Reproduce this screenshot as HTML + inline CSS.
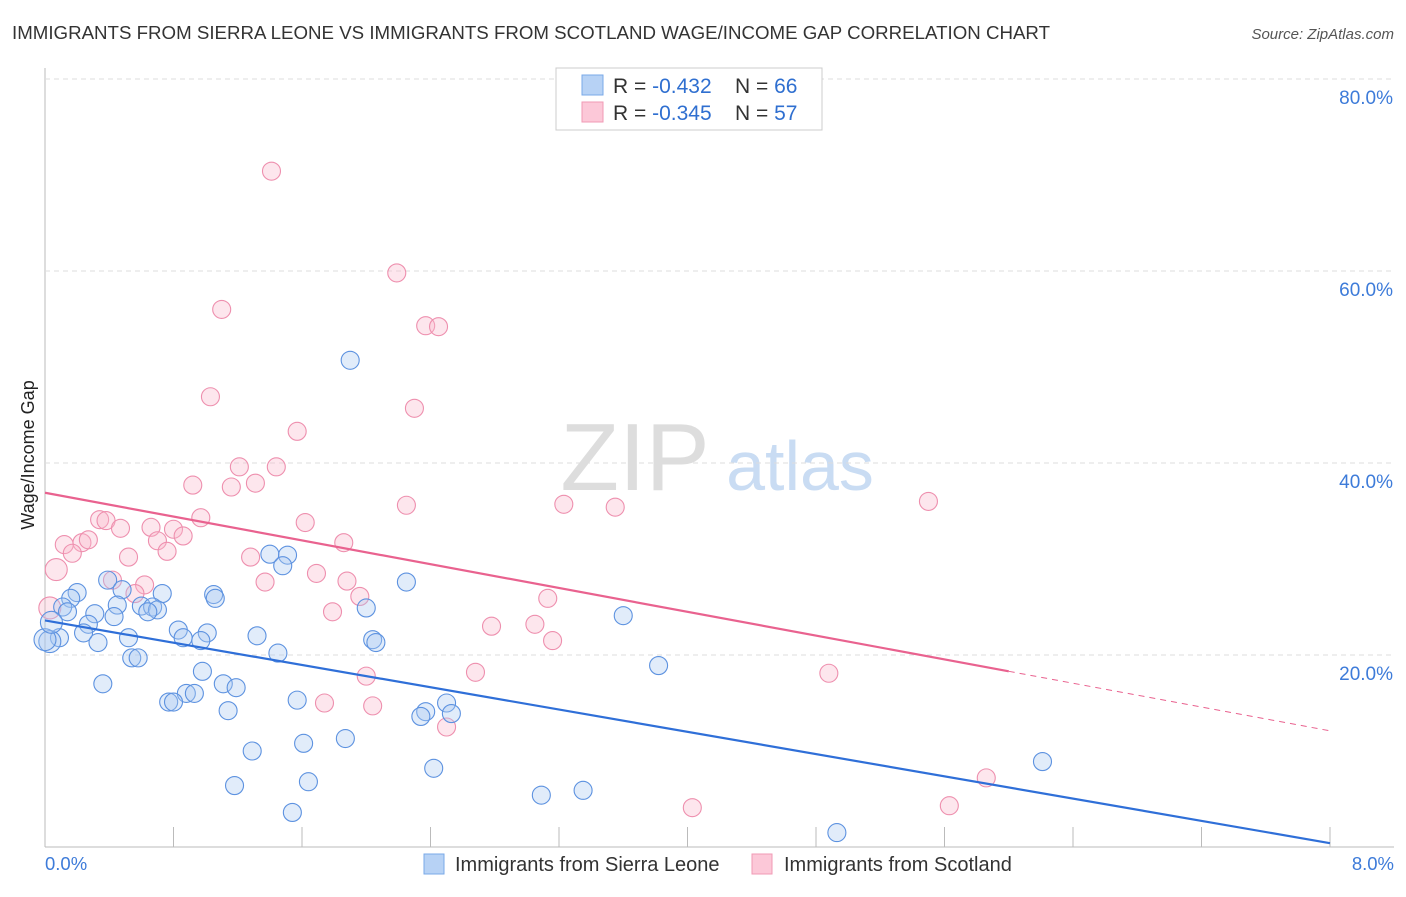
<!DOCTYPE html>
<html><head><meta charset="utf-8"><style>
body{margin:0;background:#fff;font-family:"Liberation Sans",sans-serif}
svg text{font-family:"Liberation Sans",sans-serif}
</style></head><body>
<svg id="c" width="1406" height="892" xmlns="http://www.w3.org/2000/svg">
<text x="12" y="39" font-size="18.6" fill="#333" textLength="1038" lengthAdjust="spacingAndGlyphs">IMMIGRANTS FROM SIERRA LEONE VS IMMIGRANTS FROM SCOTLAND WAGE/INCOME GAP CORRELATION CHART</text>
<text x="1394" y="39" font-size="15" fill="#555" font-style="italic" text-anchor="end">Source: ZipAtlas.com</text>
<text x="635" y="490" font-size="96" fill="#ddd" font-family="Liberation Serif" text-anchor="middle">ZIP</text>
<text x="800" y="490" font-size="70" fill="#c9dcf3" text-anchor="middle">atlas</text>
<text transform="translate(34,455) rotate(-90)" font-size="18" fill="#222" text-anchor="middle">Wage/Income Gap</text>
<g id="grid"></g><g id="pts"></g><g id="lines"></g>
<g>
<rect x="556" y="68" width="266" height="62" fill="#fff" stroke="#ccc"/>
<rect x="582" y="75" width="21" height="20" fill="#b7d2f5" stroke="#7aa9e8"/>
<rect x="582" y="102" width="21" height="20" fill="#fcc8d8" stroke="#f09ab5"/>
<text x="613" y="93" font-size="21" fill="#333">R = <tspan fill="#2f6fd0">-0.432</tspan><tspan x="735">N = </tspan><tspan fill="#2f6fd0">66</tspan></text>
<text x="613" y="120" font-size="21" fill="#333">R = <tspan fill="#2f6fd0">-0.345</tspan><tspan x="735">N = </tspan><tspan fill="#2f6fd0">57</tspan></text>
</g>
<g>
<rect x="424" y="854" width="20" height="20" fill="#b7d2f5" stroke="#7aa9e8"/>
<text x="455" y="871" font-size="20" fill="#333">Immigrants from Sierra Leone</text>
<rect x="752" y="854" width="20" height="20" fill="#fcc8d8" stroke="#f09ab5"/>
<text x="784" y="871" font-size="20" fill="#333">Immigrants from Scotland</text>
</g>
<text x="45" y="870" font-size="18.5" fill="#3d7bd9">0.0%</text>
<text x="1394" y="870" font-size="18.5" fill="#3d7bd9" text-anchor="end">8.0%</text>
</svg>
<script>
const yTicks=[20,40,60,80];
const yTickLabels=["20.0%","40.0%","60.0%","80.0%"];
const xTicks=[0,0.8,1.6,2.4,3.2,4,4.8,5.6,6.4,7.2,8];
const blueX=[1.90,1.40,1.51,1.48,2.25,0.39,0.48,0.73,0.20,0.16,1.05,1.06,0.60,0.45,0.67,0.70,0.64,0.11,0.14,0.31,0.43,2.00,3.60,0.27,0.24,0.09,0.03,0.83,1.01,0.86,0.97,0.52,1.32,2.04,2.06,0.33,1.45,0.54,0.58,3.82,0.98,0.36,1.11,1.19,0.88,0.93,0.77,0.80,1.57,2.50,1.14,2.37,2.53,2.34,1.29,1.61,1.87,2.42,6.21,1.18,1.64,3.35,3.09,1.54,4.93,0.0,0.04];
const blueY=[50.7,30.5,30.4,29.3,27.6,27.8,26.8,26.4,26.5,25.9,26.3,25.9,25.1,25.2,25.0,24.7,24.5,25.0,24.5,24.3,24.0,24.9,24.1,23.2,22.3,21.8,21.4,22.6,22.3,21.8,21.5,21.8,22.0,21.6,21.3,21.3,20.2,19.7,19.7,18.9,18.3,17.0,17.0,16.6,16.0,16.0,15.1,15.1,15.3,15.0,14.2,14.1,13.9,13.6,10.0,10.8,11.3,8.2,8.9,6.4,6.8,5.9,5.4,3.6,1.5,21.6,23.4];
const pinkX=[1.41,2.19,1.10,2.37,2.45,1.03,2.30,1.57,1.21,1.44,0.92,1.16,1.31,5.50,3.23,3.55,2.25,0.34,0.38,0.97,0.47,0.66,0.80,1.62,0.12,0.23,0.27,0.17,0.52,0.70,0.86,0.76,1.28,1.86,0.07,0.42,0.62,1.37,0.56,1.69,1.88,1.96,3.13,1.79,2.78,3.05,3.16,2.68,2.00,4.88,1.74,2.04,2.50,5.86,4.03,5.63,0.03];
const pinkY=[70.4,59.8,56.0,54.3,54.2,46.9,45.7,43.3,39.6,39.6,37.7,37.5,37.9,36.0,35.7,35.4,35.6,34.1,34.0,34.3,33.2,33.3,33.1,33.8,31.5,31.7,32.0,30.6,30.2,31.9,32.4,30.8,30.2,31.7,28.9,27.8,27.3,27.6,26.4,28.5,27.7,26.1,25.9,24.5,23.0,23.2,21.5,18.2,17.8,18.1,15.0,14.7,12.5,7.2,4.1,4.3,24.9];
const blueTrend=[23.6,0.4];
const pinkTrend=[36.9,12.1];
const pinkSolidEnd=6.0;
const NS="http://www.w3.org/2000/svg";
const sx=v=>45+v/8*1285, sy=v=>847-v*9.6;
function mk(t,a,p){const e=document.createElementNS(NS,t);for(const k in a)e.setAttribute(k,a[k]);p.appendChild(e);return e;}
const grid=document.getElementById('grid');
const ax=mk('line',{x1:45,y1:68,x2:45,y2:847,stroke:'#bbb'},grid);


const bx=mk('line',{x1:45,y1:847,x2:1394,y2:847,stroke:'#bbb'},grid);


yTicks.forEach((v,i)=>{
 const g=mk('line',{x1:45,y1:sy(v),x2:1394,y2:sy(v),stroke:'#ddd','stroke-dasharray':'5,4'},grid);
 
 
 const t=mk('text',{x:1393,y:sy(v)+25,'font-size':19,fill:'#3d7bd9','text-anchor':'end'},grid);
 t.textContent=yTickLabels[i];
 
 
});
xTicks.forEach(v=>{
 const l=mk('line',{x1:sx(v),y1:827,x2:sx(v),y2:847,stroke:'#bbb'},grid);
 
 
});
const pts=document.getElementById('pts');
function dots(X,Y,f,s,name){X.forEach((x,i)=>{
 const big=x<0.08;
 const c=mk('circle',{cx:sx(x),cy:sy(Y[i]),r:big?11:9,fill:f,'fill-opacity':0.35,stroke:s,'stroke-width':1.1},pts);
 
 
});}
dots(pinkX,pinkY,'#f9b8cc','#ee8fae','point-scotland');
dots(blueX,blueY,'#a9c8f2','#5d92e0','point-sierra-leone');
const lines=document.getElementById('lines');
const bl=mk('line',{x1:sx(0),y1:sy(blueTrend[0]),x2:sx(8),y2:sy(blueTrend[1]),stroke:'#2f6fd8','stroke-width':2.2},lines);


const py=x=>pinkTrend[0]+(pinkTrend[1]-pinkTrend[0])*x/8;
const pl=mk('line',{x1:sx(0),y1:sy(py(0)),x2:sx(pinkSolidEnd),y2:sy(py(pinkSolidEnd)),stroke:'#e9628f','stroke-width':2.2},lines);


const pd=mk('line',{x1:sx(pinkSolidEnd),y1:sy(py(pinkSolidEnd)),x2:sx(8),y2:sy(py(8)),stroke:'#e9628f','stroke-width':1,'stroke-dasharray':'6,5'},lines);


</script>
</body></html>
